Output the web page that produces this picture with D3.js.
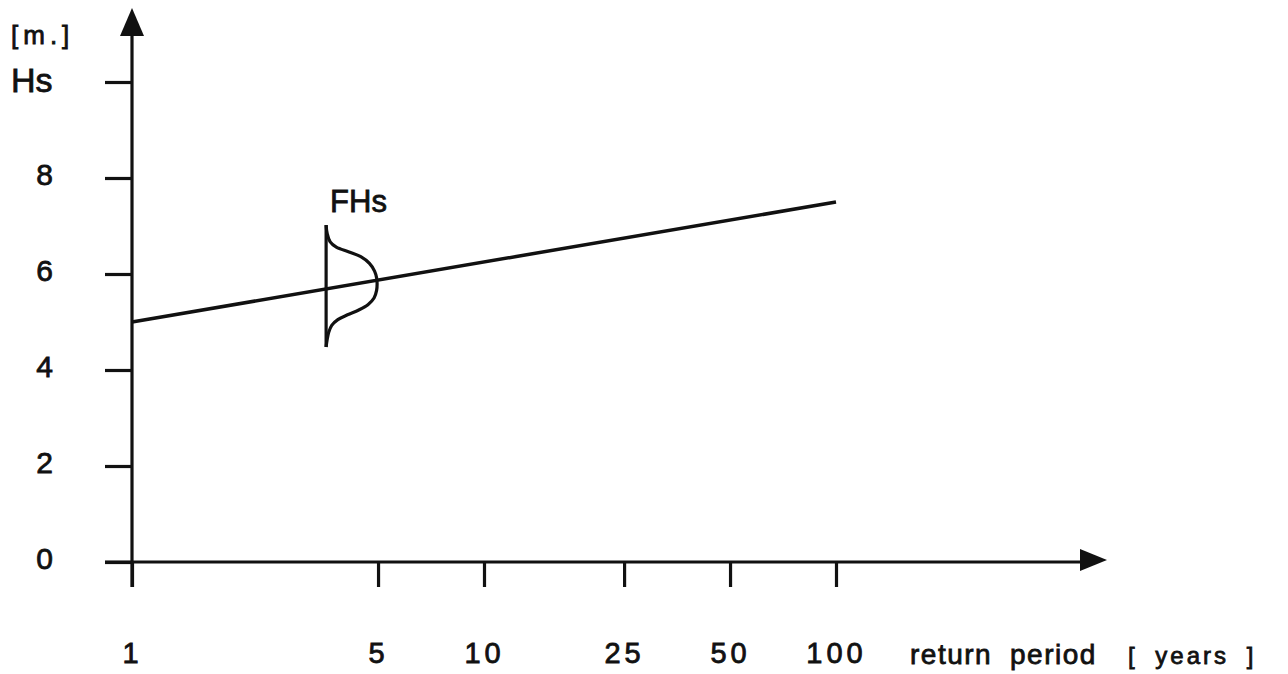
<!DOCTYPE html>
<html>
<head>
<meta charset="utf-8">
<script src="https://cdn.jsdelivr.net/npm/d3@7"></script>
<style>
  html, body { margin: 0; padding: 0; background: #fff; }
  svg { display: block; }
  text { font-family: "Liberation Sans", Arial, Helvetica, sans-serif; fill: #111; stroke: #111; stroke-width: 0.8px; }
</style>
</head>
<body>
<svg id="chart" width="1288" height="674"></svg>
<script>
// Design wave height vs. return period
const returnPeriods = [1, 5, 10, 25, 50, 100];        // x tick values [years]
const hsTicks = [0, 2, 4, 6, 8, 10];                  // y tick values [m]
const hsTickLabels = ["0", "2", "4", "6", "8", ""];   // top tick is unlabelled

// Extreme-value line: Hs against return period
const lineT = [1, 100];
const lineHs = [5.0, 7.5];

// Distribution of Hs sketched at one return period (FHs)
const fhsT = 3.56;
const fhsHs      = [7.02, 6.85, 6.67, 6.56, 6.46, 6.36, 6.22, 6.06, 5.92, 5.80, 5.66, 5.50, 5.36, 5.25, 5.15, 5.05, 4.93, 4.78, 4.63, 4.48];
const fhsDensity = [0.00, 0.02, 0.08, 0.20, 0.45, 0.68, 0.85, 0.95, 0.99, 1.00, 0.99, 0.94, 0.82, 0.64, 0.42, 0.23, 0.11, 0.05, 0.02, 0.00];

const svg = d3.select("#chart");
const ink = "#111";

const x = d3.scaleLog().domain([1, 100]).range([132, 836]);
const y = d3.scaleLinear().domain([0, 10]).range([562, 82]);
const dens = d3.scaleLinear().domain([0, 1]).range([0, 51]);

// Axis lines with arrowheads
const x0 = x(1), y0 = y(0);
svg.append("line")
  .attr("x1", x0).attr("x2", x0).attr("y1", 34).attr("y2", y0 + 25)
  .attr("stroke", ink).attr("stroke-width", 3.2);
svg.append("path")
  .attr("d", `M${x0},8 L${x0 - 12},36 L${x0 + 12},36 Z`)
  .attr("fill", ink);
svg.append("line")
  .attr("x1", 105).attr("x2", 1082).attr("y1", y0).attr("y2", y0)
  .attr("stroke", ink).attr("stroke-width", 3.2);
svg.append("path")
  .attr("d", `M1107,${y0 - 2} L1080,${y0 - 13} L1080,${y0 + 9} Z`)
  .attr("fill", ink);

// Y axis ticks and labels
const yAxis = d3.axisLeft(y)
  .tickValues(hsTicks)
  .tickFormat((d, i) => hsTickLabels[i])
  .tickSizeInner(27).tickSizeOuter(0).tickPadding(52);
const gy = svg.append("g").attr("transform", `translate(${x0},0)`).call(yAxis);
gy.select(".domain").remove();
gy.selectAll(".tick line").attr("stroke", ink).attr("stroke-width", 3.2);
gy.selectAll(".tick text")
  .attr("font-size", 30).attr("dy", "0.22em").attr("fill", ink)
  .style("font-family", "'Liberation Sans', Arial, sans-serif");

// X axis ticks and labels
const xAxis = d3.axisBottom(x)
  .tickValues(returnPeriods)
  .tickFormat(d3.format("d"))
  .tickSizeInner(25).tickSizeOuter(0).tickPadding(55);
const gx = svg.append("g").attr("transform", `translate(0,${y0})`).call(xAxis);
gx.select(".domain").remove();
gx.selectAll(".tick line").attr("stroke", ink).attr("stroke-width", 3.2);
gx.selectAll(".tick text")
  .attr("font-size", 29).attr("fill", ink).attr("letter-spacing", 4)
  .style("font-family", "'Liberation Sans', Arial, sans-serif");

// Axis titles
svg.append("text").attr("x", 11).attr("y", 44)
  .attr("font-size", 26).attr("letter-spacing", 5).text("[m.]");
svg.append("text").attr("x", 11).attr("y", 92)
  .attr("font-size", 34).text("Hs");
const xt = svg.append("text").attr("y", 664).attr("font-size", 28);
xt.append("tspan").attr("x", 910).attr("letter-spacing", 1.5).text("return");
xt.append("tspan").attr("x", 1010).attr("letter-spacing", 1.5).text("period");
xt.append("tspan").attr("x", 1128).attr("font-size", 24).attr("letter-spacing", 3)
  .attr("word-spacing", 8).text("[ years ]");

// Hs line
const pts = lineT.map((t, i) => [t, lineHs[i]]);
svg.append("path")
  .attr("d", d3.line().x(d => x(d[0])).y(d => y(d[1]))(pts))
  .attr("fill", "none").attr("stroke", ink).attr("stroke-width", 3.5);

// FHs density sketch
const fx = x(fhsT);
svg.append("line")
  .attr("x1", fx).attr("x2", fx)
  .attr("y1", y(d3.max(fhsHs))).attr("y2", y(d3.min(fhsHs)))
  .attr("stroke", ink).attr("stroke-width", 3.2);
const dpts = fhsHs.map((h, i) => [fhsDensity[i], h]);
svg.append("path")
  .attr("d", d3.line().curve(d3.curveCatmullRom.alpha(0.5))
    .x(d => fx + dens(d[0])).y(d => y(d[1]))(dpts))
  .attr("fill", "none").attr("stroke", ink).attr("stroke-width", 3.2);
svg.append("text")
  .attr("x", fx + 4).attr("y", y(d3.max(fhsHs)) - 13)
  .attr("font-size", 31).text("FHs");
</script>
</body>
</html>
